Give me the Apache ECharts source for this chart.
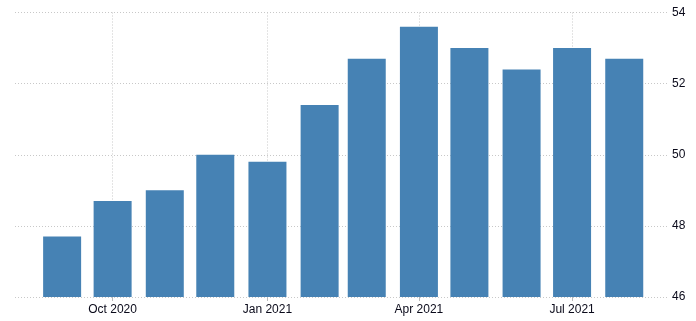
<!DOCTYPE html>
<html>
<head>
<meta charset="utf-8">
<script src="https://cdn.jsdelivr.net/npm/echarts@6/dist/echarts.min.js"></script>
<style>
html,body{margin:0;padding:0;background:#fff;}
#chart{width:696px;height:321px;}
</style>
</head>
<body>
<div id="chart"></div>
<script>
var months = ['2020-09-01','2020-10-01','2020-11-01','2020-12-01','2021-01-01','2021-02-01','2021-03-01','2021-04-01','2021-05-01','2021-06-01','2021-07-01','2021-08-01'];
var values = [47.7, 48.7, 49.0, 50.0, 49.8, 51.4, 52.7, 53.6, 53.0, 52.4, 53.0, 52.7];
var tickDates = ['2020-10-01','2021-01-01','2021-04-01','2021-07-01'];
var tickLabels = ['Oct 2020','Jan 2021','Apr 2021','Jul 2021'];
var yTicks = [46, 48, 50, 52, 54];

function ts(s){ var p = s.split('-'); return Date.UTC(+p[0], +p[1]-1, +p[2]); }
var tickTs = tickDates.map(ts);

var chart = echarts.init(document.getElementById('chart'), null, {renderer:'canvas'});
chart.setOption({
  animation: false,
  backgroundColor: '#ffffff',
  grid: {left: 15, right: 28, top: 12.5, bottom: 24, containLabel: false},
  xAxis: {
    type: 'value',
    min: ts('2020-08-04'),
    max: ts('2021-08-27'),
    axisLine: {show: false},
    axisTick: {show: true, length: 4, lineStyle: {color: '#bbbbbb'}, customValues: tickTs},
    axisLabel: {
      customValues: tickTs,
      showMinLabel: true, showMaxLabel: true,
      color: '#0a0a1a',
      fontFamily: 'Liberation Sans',
      fontSize: 12,
      margin: 7,
      formatter: function (v) {
        var i = tickTs.indexOf(v);
        return i >= 0 ? tickLabels[i] : '';
      }
    },
    splitLine: {show: true, lineStyle: {color: '#c8c8c8', type: [1, 2], width: 1}}
  },
  yAxis: {
    type: 'value',
    position: 'right',
    min: yTicks[0],
    max: yTicks[yTicks.length - 1],
    interval: 2,
    axisLine: {show: false},
    axisTick: {show: false},
    axisLabel: {color: '#0a0a1a', fontFamily: 'Liberation Sans', fontSize: 12, margin: 4},
    splitLine: {show: true, lineStyle: {color: '#c8c8c8', type: [1, 2], width: 1}}
  },
  series: [{
    type: 'bar',
    barWidth: 38,
    itemStyle: {color: '#4682b4'},
    data: months.map(function (m, i) { return [ts(m), values[i]]; })
  }]
});
</script>
</body>
</html>
